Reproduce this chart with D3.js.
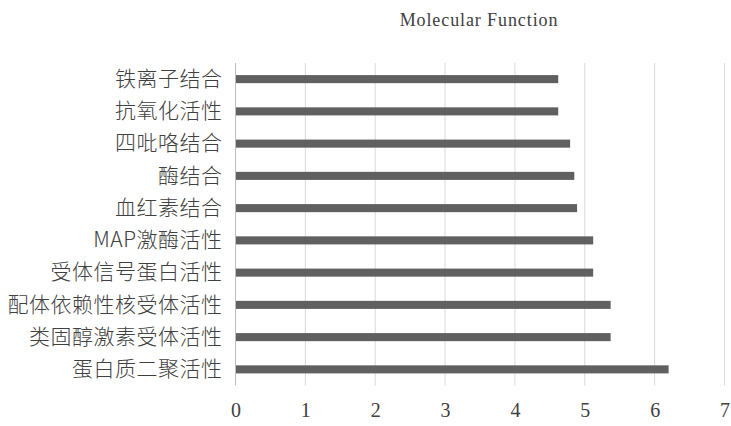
<!DOCTYPE html>
<html><head><meta charset="utf-8">
<script src="https://cdn.jsdelivr.net/npm/d3@7"></script>
<style>body{margin:0;background:#fff}</style>
</head><body>
<svg id="c" width="731" height="426"></svg>
<script>
const categories = ["铁离子结合","抗氧化活性","四吡咯结合","酶结合","血红素结合","MAP激酶活性","受体信号蛋白活性","配体依赖性核受体活性","类固醇激素受体活性","蛋白质二聚活性"];
const values = [4.62,4.62,4.79,4.85,4.89,5.12,5.12,5.37,5.37,6.20];
const xTicks = [0,1,2,3,4,5,6,7];
const title = "Molecular Function";

(function(){
const svg = d3.select("#c");
const pL = 235.5, pR = 724.5, pT = 63, pB = 385.5;
const x = d3.scaleLinear().domain([0,7]).range([pL,pR]);
const y = d3.scaleBand().domain(categories).range([pT,pB]).paddingInner(0.75).paddingOuter(0.375);

svg.append("g").selectAll("line").data(xTicks.slice(1)).join("line")
  .attr("x1",d=>x(d)).attr("x2",d=>x(d)).attr("y1",pT).attr("y2",pB)
  .attr("stroke","#d9d9d9").attr("stroke-width",1);

svg.append("g").selectAll("rect").data(values).join("rect")
  .attr("x",x(0)).attr("y",(d,i)=>y(categories[i]))
  .attr("width",d=>x(d)-x(0)).attr("height",y.bandwidth())
  .attr("fill","#606060");

svg.append("line").attr("x1",x(0)).attr("x2",x(0)).attr("y1",pT).attr("y2",pB)
  .attr("stroke","#bfbfbf").attr("stroke-width",1);

const ya = d3.axisLeft(y).tickSize(0).tickPadding(13);
const gy = svg.append("g").attr("transform",`translate(${x(0)},0)`).call(ya);
gy.select(".domain").remove();
gy.selectAll("text").attr("font-family","'Noto Sans CJK SC', sans-serif").attr("font-size",21)
  .attr("fill","#404040").attr("font-weight",300).attr("letter-spacing",0.5);

const xa = d3.axisBottom(x).tickValues(xTicks).tickSize(0).tickPadding(0).tickFormat(d3.format("d"));
const gx = svg.append("g").attr("transform",`translate(0,${pB+17})`).call(xa);
gx.select(".domain").remove();
gx.selectAll("text").attr("font-family","'Liberation Serif', serif").attr("font-size",20).attr("fill","#404040");

svg.append("text").attr("x",479).attr("y",26).attr("text-anchor","middle")
  .attr("font-family","'Liberation Serif', serif").attr("font-size",18).attr("fill","#404040")
  .attr("letter-spacing",0.9).text(title);
})();
</script>
</body></html>
